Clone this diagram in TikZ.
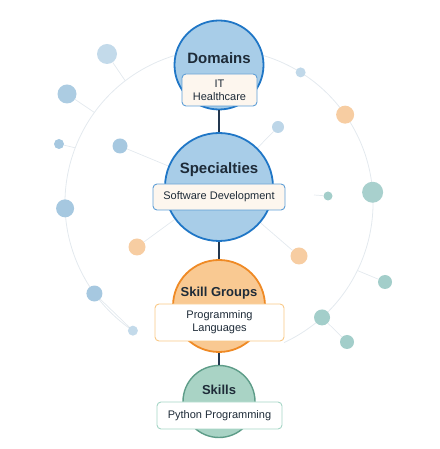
\documentclass[tikz,border=0pt]{standalone}
\usepackage{fontspec}
\setmainfont{Liberation Sans}
\usetikzlibrary{positioning, calc, backgrounds}

\definecolor{domFill}{HTML}{A8CDE8}
\definecolor{domLine}{HTML}{1F76C6}
\definecolor{grpFill}{HTML}{F9C992}
\definecolor{grpLine}{HTML}{EF8A25}
\definecolor{sklFill}{HTML}{A9D3C5}
\definecolor{sklLine}{HTML}{5D9C88}
\definecolor{tagFill}{HTML}{FDF6EE}
\definecolor{tagBlue}{HTML}{5E9ED6}
\definecolor{tagOrange}{HTML}{F9C987}
\definecolor{tagTeal}{HTML}{A5D6C6}
\definecolor{ink}{HTML}{1E2B38}
\definecolor{linkCol}{HTML}{23374F}
\definecolor{orbitCol}{HTML}{E3E9EE}
\definecolor{dotPale}{HTML}{C3DAEA}
\definecolor{dotBlue}{HTML}{A6C8E0}
\definecolor{dotOrange}{HTML}{F7CDA2}
\definecolor{dotTeal}{HTML}{A3CECA}

\begin{document}
\begin{tikzpicture}[x=1pt, y=1pt,
        level/.style={circle, draw, line width=1.8pt, inner sep=0pt},
        title/.style={font=\bfseries\fontsize{15}{18}\selectfont, text=ink, anchor=base},
        tag/.style={draw, rounded corners=4pt, line width=0.9pt, fill=tagFill, align=center, inner sep=0pt, font=\fontsize{11}{13}\selectfont, text=ink},
        dot/.style={circle, inner sep=0pt},
        spoke/.style={draw=orbitCol, line width=0.7pt},
        link/.style={draw=linkCol, line width=1.5pt}
    ]
        \useasboundingbox (0,0) rectangle (439,449);

        % Níveis
        \node (domains) at (219,384) [level, draw=domLine, fill=domFill, minimum size=89pt] {};
        \node (specialties) at (219,262) [level, draw=domLine, fill=domFill, minimum size=108pt] {};
        \node (groups) at (219,143) [level, draw=grpLine, fill=grpFill, minimum size=92pt] {};
        \node (skills) at (219,47.5) [level, draw=sklLine, fill=sklFill, line width=1.4pt, minimum size=72pt] {};

        \node (domTitle) at (219,385) [title] {Domains};
        \node (specTitle) at (219,275) [title] {Specialties};
        \node (grpTitle) at (219,152) [title, font=\bfseries\fontsize{13}{16}\selectfont] {Skill Groups};
        \node (sklTitle) at (219,54) [title, font=\bfseries\fontsize{13}{16}\selectfont] {Skills};

        \node (domTag) at (219.5,359) [tag, draw=tagBlue, minimum width=75pt, minimum height=32pt] {IT\\Healthcare};
        \node (specTag) at (219,252) [tag, draw=tagBlue, minimum width=132pt, minimum height=26pt] {Software Development};
        \node (grpTag) at (219.5,126.5) [tag, draw=tagOrange, fill=white, minimum width=129pt, minimum height=37pt] {Programming\\Languages};
        \node (sklTag) at (219.5,33.5) [tag, draw=tagTeal, fill=white, minimum width=125pt, minimum height=27pt] {Python Programming};

        % Conexões
        \draw[link] (domains) -- (specialties);
        \draw[link] (specialties) -- (groups);
        \draw[link] (groups) -- (skills);

    \begin{scope}[on background layer]
        % Órbita
        \coordinate (orbit) at (219,246);
        \draw[orbitCol, line width=0.8pt] ($(orbit)+(-65:154pt)$) arc[start angle=-65, end angle=236, radius=154pt];
        \coordinate (hookA) at ($(orbit)+(127.5:154pt)$);
        \coordinate (hookB) at ($(orbit)+(144:154pt)$);
        \coordinate (hookC) at ($(orbit)+(159:154pt)$);
        \coordinate (hookO) at ($(orbit)+(-26:154pt)$);
        \coordinate (hookI) at (314,254);

        \node (blueLeft) at ($(orbit)+(182:154pt)$) [dot, fill=dotBlue, minimum size=18pt] {};
        \node (blueLow) at ($(orbit)+(216:154pt)$) [dot, fill=dotBlue, minimum size=16pt] {};
        \node (paleLow) at ($(orbit)+(236:154pt)$) [dot, fill=dotPale, minimum size=10pt] {};
        \node (paleRight) at ($(orbit)+(58:154pt)$) [dot, fill=dotPale!90!dotBlue, minimum size=10pt] {};
        \node (orangeRight) at ($(orbit)+(35:154pt)$) [dot, fill=dotOrange, minimum size=18pt] {};
        \node (tealRight) at ($(orbit)+(4:154pt)$) [dot, fill=dotTeal!95!white, minimum size=21pt] {};
        \node (tealLow) at ($(orbit)+(-48:154pt)$) [dot, fill=dotTeal, minimum size=16pt] {};

        \node (paleTop) at (107,395) [dot, fill=dotPale, minimum size=20pt] {};
        \node (blueHigh) at (67,355) [dot, fill=dotBlue!80!dotPale, minimum size=19pt] {};
        \node (blueSmall) at (59,305) [dot, fill=dotBlue, minimum size=10pt] {};
        \node (blueInner) at (120,303) [dot, fill=dotBlue, minimum size=15pt] {};
        \node (blueInnerR) at (278,322) [dot, fill=dotPale!80!dotBlue, minimum size=12pt] {};
        \node (tealSmall) at (328,253) [dot, fill=dotTeal, minimum size=9pt] {};
        \node (orangeLeft) at (137,202) [dot, fill=dotOrange, minimum size=17pt] {};
        \node (orangeLow) at (299,193) [dot, fill=dotOrange, minimum size=17pt] {};
        \node (tealOuter) at (385,167) [dot, fill=dotTeal, minimum size=14pt] {};
        \node (tealEnd) at (347,107) [dot, fill=dotTeal, minimum size=14pt] {};

        \draw[spoke] (paleTop) -- (hookA);
        \draw[spoke] (blueHigh) -- (hookB);
        \draw[spoke] (blueSmall) -- (hookC);
        \draw[spoke] (tealOuter) -- (hookO);
        \draw[spoke] (tealSmall) -- (hookI);
        \draw[spoke] (tealLow) -- (tealEnd);
        \draw[spoke] (blueLow) -- (paleLow);
        \draw[spoke] (blueInner) -- (specialties);
        \draw[spoke] (blueInnerR) -- (specialties);
        \draw[spoke] (orangeLeft) -- (specialties);
        \draw[spoke] (orangeLow) -- (specialties);
    \end{scope}
    \end{tikzpicture}
\end{document}
